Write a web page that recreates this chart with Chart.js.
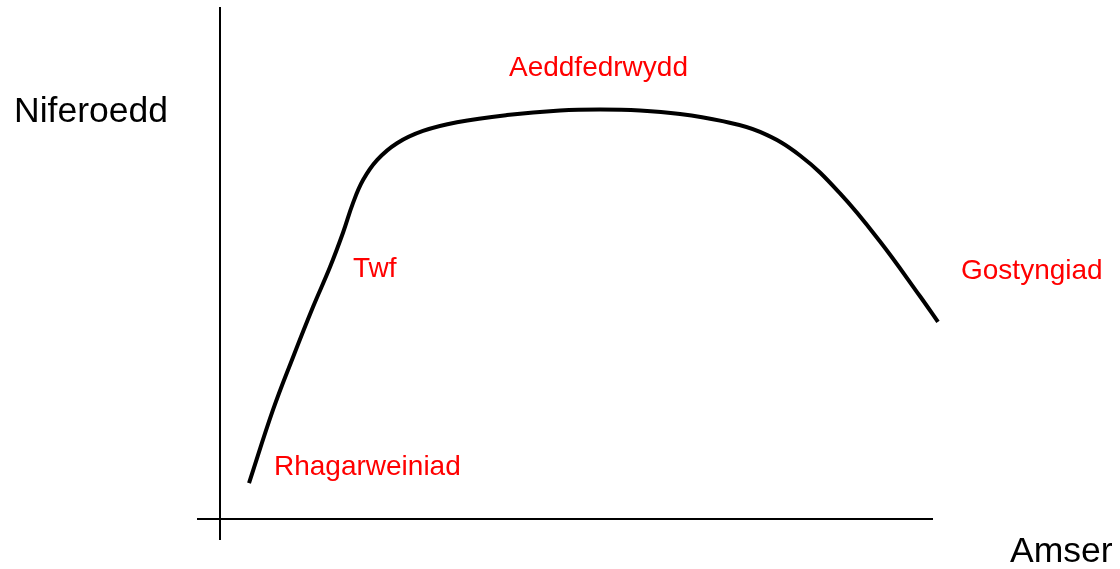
<!DOCTYPE html>
<html>
<head>
<meta charset="utf-8">
<script src="https://cdn.jsdelivr.net/npm/chart.js@4/dist/chart.umd.min.js"></script>
<style>
  body { margin: 0; background: #fff; }
  #wrap { width: 1120px; height: 569px; }
</style>
</head>
<body>
<div id="wrap"><canvas id="growth" width="1120" height="569"></canvas></div>
<script>
// curve (time 0-100, number 0-100)
const amser = [4.07, 7.43, 10.24, 13.04, 15.43, 17.25, 18.65, 20.06, 22.02, 24.82, 28.47, 33.24, 40.25, 47.69, 53.30, 58.91, 64.52, 70.13, 75.74, 81.35, 86.96, 92.57, 98.18, 100.7];
const niferoedd = [7.0, 21.3, 31.6, 41.4, 49.2, 55.9, 61.7, 66.2, 70.1, 73.4, 75.8, 77.5, 78.9, 79.8, 80.0, 79.8, 79.1, 77.8, 75.6, 71.0, 63.6, 54.2, 43.5, 38.5];

// phase names
const cyfnodau = ['Rhagarweiniad', 'Twf', 'Aeddfedrwydd', 'Gostyngiad'];
const teitlY = 'Niferoedd';
const teitlX = 'Amser';

// where each phase name sits, in data units
const labelPos = [
    { x: 7.57, y: 8.6 },
    { x: 18.65, y: 47.3 },
    { x: 40.53, y: 86.5 },
    { x: 103.93, y: 46.9 }
];

const points = amser.map((t, i) => ({ x: t, y: niferoedd[i] }));

// axes that cross a little past the origin, plus all the text
const sketchPlugin = {
    id: 'sketch',
    afterDatasetsDraw(chart) {
        const ctx = chart.ctx;
        const xs = chart.scales.x;
        const ys = chart.scales.y;
        const x0 = Math.round(xs.getPixelForValue(0));
        const y0 = Math.round(ys.getPixelForValue(0));

        ctx.save();
        ctx.strokeStyle = '#000';
        ctx.lineWidth = 2;
        ctx.beginPath();
        ctx.moveTo(x0, ys.getPixelForValue(100));
        ctx.lineTo(x0, y0 + 21);
        ctx.moveTo(x0 - 23, y0);
        ctx.lineTo(xs.getPixelForValue(100), y0);
        ctx.stroke();

        ctx.textBaseline = 'alphabetic';
        ctx.textAlign = 'left';
        ctx.fillStyle = '#ff0000';
        ctx.font = '28px "Liberation Sans", Arial, sans-serif';
        cyfnodau.forEach((name, i) => {
            ctx.fillText(name, xs.getPixelForValue(labelPos[i].x), ys.getPixelForValue(labelPos[i].y));
        });

        ctx.fillStyle = '#000';
        ctx.font = '35.5px "Liberation Sans", Arial, sans-serif';
        ctx.fillText(teitlY, 14, 122);
        ctx.fillText(teitlX, 1010, 562);
        ctx.restore();
    }
};

new Chart(document.getElementById('growth').getContext('2d'), {
    type: 'line',
    data: {
        datasets: [{
            data: points,
            borderColor: '#000',
            borderWidth: 4,
            pointRadius: 0,
            fill: false,
            tension: 0.4,
            capBezierPoints: false,
            clip: false
        }]
    },
    options: {
        responsive: false,
        animation: false,
        layout: { padding: { left: 220, right: 187, top: 7, bottom: 50 } },
        plugins: { legend: { display: false }, tooltip: { enabled: false } },
        scales: {
            x: { type: 'linear', min: 0, max: 100, display: false },
            y: { type: 'linear', min: 0, max: 100, display: false }
        }
    },
    plugins: [sketchPlugin]
});
</script>
</body>
</html>
